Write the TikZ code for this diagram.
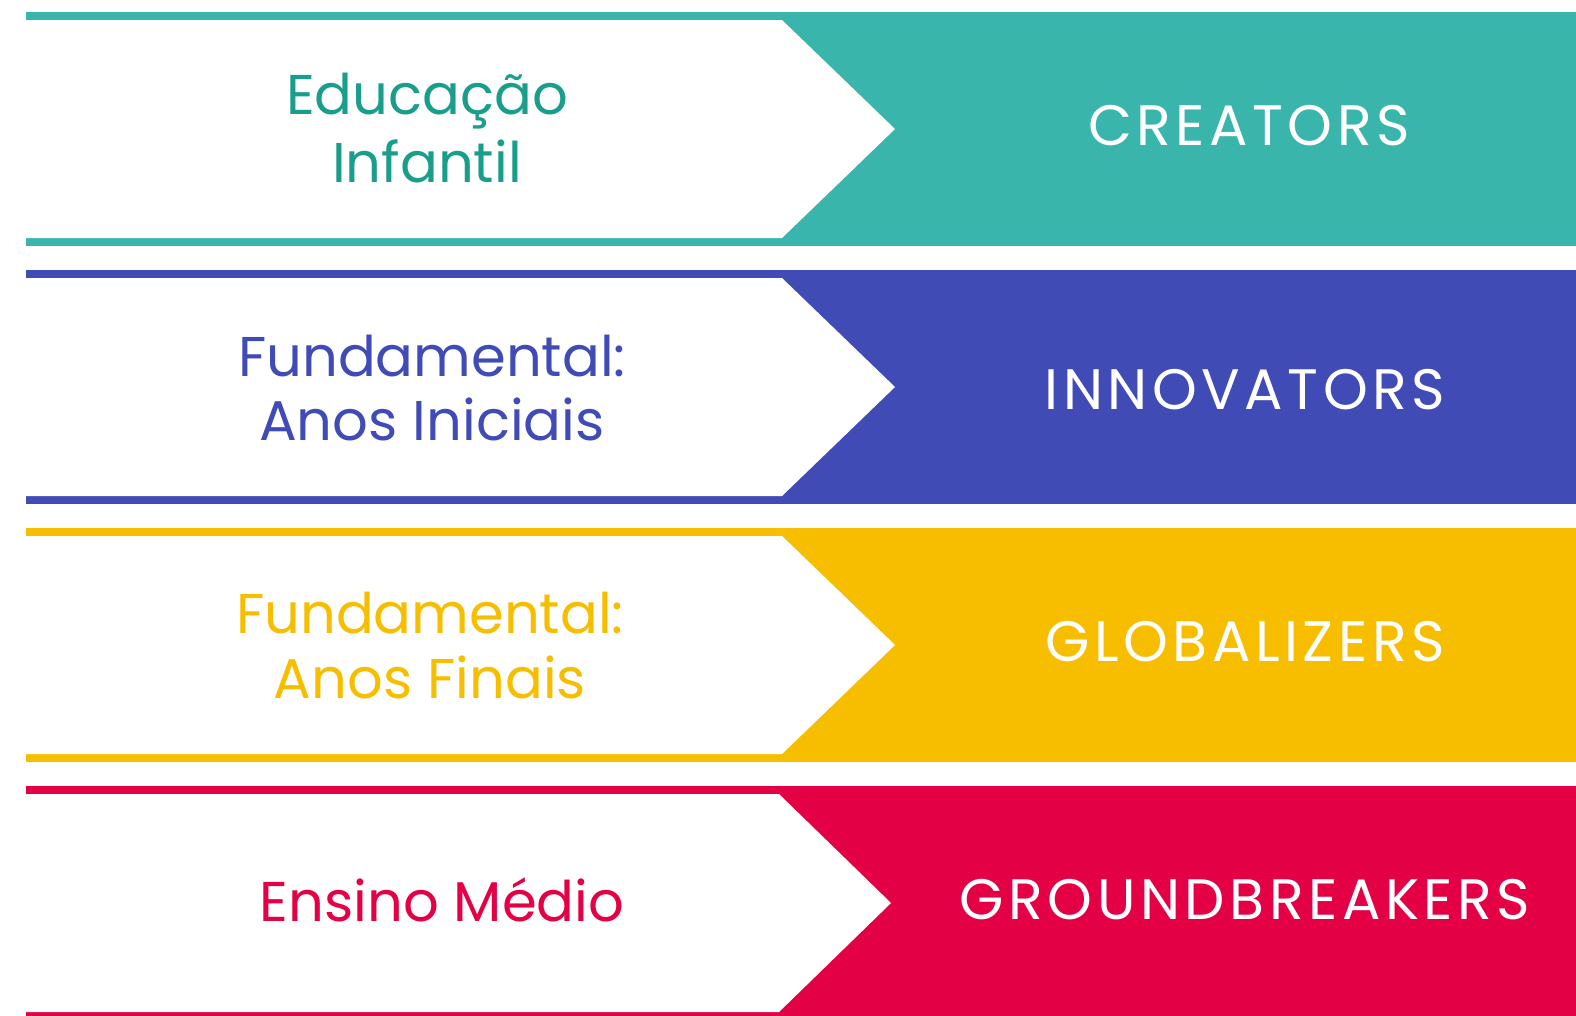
\documentclass[tikz,border=0pt]{standalone}
\usepackage{fontspec}
\setmainfont{Poppins}
\newfontfamily\widefont[LetterSpace=8]{Poppins}
\definecolor{cteal}{HTML}{39B5AC}
\definecolor{cteald}{HTML}{1A9E8C}
\definecolor{cblue}{HTML}{414BB6}
\definecolor{cyellow}{HTML}{F7BE00}
\definecolor{cred}{HTML}{E30044}
\tikzset{
  lefttxt/.style={anchor=base, inner sep=0pt, font=\fontsize{56}{56}\selectfont},
  righttxt/.style={anchor=base, inner sep=0pt, text=white, font=\widefont\fontsize{57}{57}\selectfont},
}
\begin{document}
\begin{tikzpicture}[x=1pt,y=-1pt]
\useasboundingbox (0,0) rectangle (1576,1015);
\fill[white] (0,0) rectangle (1576,1015);
% bands
\foreach \T/\c/\cx/\tx in {12/cteal/782/895, 270/cblue/782/895, 528/cyellow/782/895, 786/cred/779/891}{
  \fill[\c] (26,\T) rectangle (1576,\T+234);
  \fill[white] (26,\T+8) -- (\cx,\T+8) -- (\tx,\T+117) -- (\cx,\T+226) -- (26,\T+226) -- cycle;
}
% band 1
\node[lefttxt, text=cteald] (l1a) at (427,114) {Educação};
\node[lefttxt, text=cteald] (l1b) at (427,182) {Infantil};
\node[righttxt] (r1) at (1249,145) {CREATORS};
% band 2
\node[lefttxt, text=cblue] (l2a) at (432,376) {Fundamental:};
\node[lefttxt, text=cblue] (l2b) at (432,440) {Anos Iniciais};
\node[righttxt] (r2) at (1245,409) {INNOVATORS};
% band 3
\node[lefttxt, text=cyellow] (l3a) at (430,633) {Fundamental:};
\node[lefttxt, text=cyellow] (l3b) at (430,698) {Anos Finais};
\node[righttxt] (r3) at (1245,661) {GLOBALIZERS};
% band 4
\node[lefttxt, text=cred] (l4) at (442,921) {Ensino Médio};
\node[righttxt] (r4) at (1245,919) {GROUNDBREAKERS};
\end{tikzpicture}
\end{document}
